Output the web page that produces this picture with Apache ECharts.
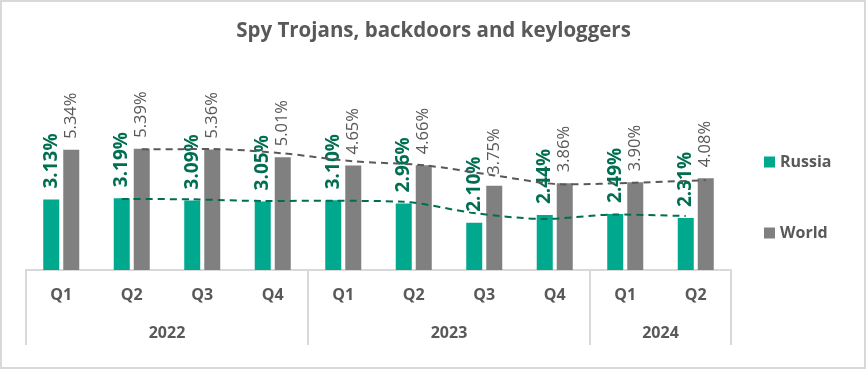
<!DOCTYPE html>
<html>
<head>
<meta charset="utf-8">
<script src="https://cdn.jsdelivr.net/npm/echarts@6/dist/echarts.min.js"></script>
<style>
html,body{margin:0;padding:0;background:#fff;}
#wrap{position:relative;width:867px;height:371px;}
#chart{position:absolute;left:0;top:0;width:867px;height:371px;}
#frame{position:absolute;left:0;top:0;width:866px;height:369px;box-sizing:border-box;border:2px solid #D9D9D9;pointer-events:none;}
</style>
</head>
<body>
<div id="wrap"><div id="chart"></div><div id="frame"></div></div>
<script>
const titleText = 'Spy Trojans, backdoors and keyloggers';
const quarters = ['Q1','Q2','Q3','Q4','Q1','Q2','Q3','Q4','Q1','Q2'];
const years    = ['2022','2022','2022','2022','2023','2023','2023','2023','2024','2024'];
const russia   = [3.13, 3.19, 3.09, 3.05, 3.10, 2.96, 2.10, 2.44, 2.49, 2.31];
const world    = [5.34, 5.39, 5.36, 5.01, 4.65, 4.66, 3.75, 3.86, 3.90, 4.08];
const seriesNames = ['Russia', 'World'];

const FONT = 'Open Sans';
const BAR_W = 0.227;      // fraction of band
const BAR_GAP = 0.25;     // fraction of bar width
const ofs = (BAR_W + BAR_W * BAR_GAP) / 2;

// 2-period moving average trendlines (Excel style), anchored on each series' bar centre
function movingAvg(arr, shift) {
  const out = [];
  for (let i = 1; i < arr.length; i++) out.push([i + shift, (arr[i - 1] + arr[i]) / 2]);
  return out;
}

// year grouping helpers
const groupStart = (i) => i === 0 || years[i] !== years[i - 1];
const labelIdx = new Set();
{
  let s = 0;
  for (let i = 1; i <= years.length; i++) {
    if (i === years.length || years[i] !== years[s]) {
      const cnt = i - s;
      labelIdx.add(s + Math.max(0, Math.floor(cnt / 2) - 1));
      s = i;
    }
  }
}

const chart = echarts.init(document.getElementById('chart'), null, {renderer: 'canvas'});
const option = {
  animation: false,
  backgroundColor: '#fff',
  title: {
    text: titleText,
    left: 'center',
    top: 16,
    textStyle: {fontFamily: FONT, fontSize: 20.5, fontWeight: 'bold', color: '#595959'}
  },
  legend: {
    data: seriesNames,
    orient: 'vertical',
    left: 759,
    top: 148,
    itemWidth: 11,
    itemHeight: 11,
    itemGap: 53,
    icon: 'rect',
    textStyle: {fontFamily: FONT, fontSize: 16, fontWeight: 'bold', color: '#595959', lineHeight: 18}
  },
  grid: {left: 26, right: 136, top: 112.5, bottom: 101, containLabel: false},
  xAxis: [
    {
      type: 'category', data: quarters, position: 'bottom',
      axisLine: {show: true, lineStyle: {color: '#D9D9D9', width: 2}},
      axisTick: {show: false},
      axisLabel: {margin: 17, fontFamily: FONT, fontSize: 16, fontWeight: 'bold', color: '#595959'}
    },
    {
      type: 'category', data: quarters, position: 'bottom',
      axisLine: {show: false},
      axisTick: {show: true, length: 75, interval: (i) => groupStart(i), lineStyle: {color: '#D9D9D9', width: 2}},
      axisLabel: {
        interval: (i) => labelIdx.has(i),
        formatter: (v, i) => years[i],
        margin: 55, padding: [0, 0, 0, 70.5],
        fontFamily: FONT, fontSize: 16, fontWeight: 'bold', color: '#595959'
      }
    },
    {type: 'value', min: -0.5, max: quarters.length - 0.5, show: false}
  ],
  yAxis: {type: 'value', min: 0, max: 7, show: false, splitLine: {show: false}},
  series: [
    {
      name: seriesNames[0], type: 'bar', xAxisIndex: 0, data: russia,
      barWidth: (BAR_W * 100) + '%', barGap: (BAR_GAP * 100) + '%',
      itemStyle: {color: '#00A88E'},
      label: {
        show: true, position: 'top', rotate: 90, align: 'left', verticalAlign: 'middle', distance: 11,
        formatter: (p) => p.value.toFixed(2) + '%',
        fontFamily: FONT, fontSize: 19, fontWeight: 'bold', color: '#006E50'
      }
    },
    {
      name: seriesNames[1], type: 'bar', xAxisIndex: 0, data: world,
      barWidth: (BAR_W * 100) + '%', barGap: (BAR_GAP * 100) + '%',
      itemStyle: {color: '#808080'},
      label: {
        show: true, position: 'top', rotate: 90, align: 'left', verticalAlign: 'middle', distance: 11,
        formatter: (p) => p.value.toFixed(2) + '%',
        fontFamily: FONT, fontSize: 16.5, fontWeight: 'normal', color: '#595959'
      }
    },
    {
      name: 'Russia trend', type: 'line', xAxisIndex: 2, data: movingAvg(russia, -ofs),
      smooth: 0.3, symbol: 'none', z: 5,
      lineStyle: {color: '#006E50', width: 2, type: [7, 5]}
    },
    {
      name: 'World trend', type: 'line', xAxisIndex: 2, data: movingAvg(world, ofs),
      smooth: 0.3, symbol: 'none', z: 5,
      lineStyle: {color: '#595959', width: 2, type: [7, 5]}
    }
  ]
};
chart.setOption(option);
</script>
</body>
</html>
